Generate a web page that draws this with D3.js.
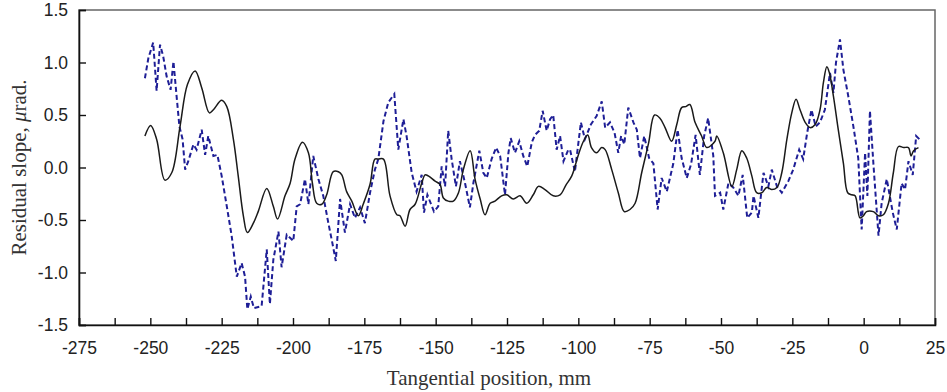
<!DOCTYPE html>
<html>
<head>
<meta charset="utf-8">
<script src="https://cdn.jsdelivr.net/npm/d3@7"></script>
<style>
  body { margin: 0; background: #fff; }
  #chart { width: 947px; height: 392px; }
  .tick text { font-family: "Liberation Sans", Arial, sans-serif; font-size: 17.5px; fill: #222; }
  .axisLabel { font-family: "Liberation Serif", "Times New Roman", serif; font-size: 21px; fill: #333; }
</style>
</head>
<body>
<div id="chart"></div>
<script>
// solid black profile (x in mm, y in microrad)
const solidX = [-251.9, -249.9, -247.8, -244.9, -242.5, -239.6, -237.0, -234.3, -232.0, -229.3, -227.9, -225.0, -223.2, -220.9, -219.2, -217.4, -216.0, -213.9, -212.2, -209.2, -206.9, -205.4, -202.8, -201.0, -199.3, -196.7, -194.6, -193.2, -191.7, -189.9, -188.2, -185.9, -184.1, -182.9, -181.2, -179.4, -177.1, -175.4, -173.0, -171.3, -170.1, -168.3, -166.0, -163.6, -162.5, -160.7, -159.0, -157.2, -154.9, -153.7, -152.6, -150.2, -148.5, -147.3, -145.6, -143.8, -142.0, -140.3, -137.9, -136.2, -134.4, -132.7, -130.9, -129.2, -126.9, -125.1, -122.8, -120.4, -118.1, -115.8, -114.0, -111.7, -108.8, -106.4, -104.4, -102.3, -100.0, -98.2, -96.7, -95.4, -93.6, -91.8, -90.6, -88.3, -86.0, -83.9, -81.9, -80.1, -77.8, -75.4, -73.3, -71.4, -69.6, -67.3, -65.5, -63.8, -62.4, -60.9, -59.1, -56.8, -55.0, -52.1, -51.5, -49.2, -46.2, -44.5, -42.7, -41.0, -39.2, -37.5, -35.7, -34.0, -32.2, -30.4, -28.7, -26.9, -25.2, -23.7, -22.3, -20.5, -18.8, -17.0, -15.3, -14.1, -12.9, -12.0, -10.6, -8.9, -7.1, -5.6, -4.2, -3.0, -1.3, -0.1, 1.0, 3.4, 5.2, 6.9, 8.7, 10.4, 12.2, 14.0, 15.7, 16.6, 17.5, 19.2];
const solidY = [0.30, 0.40, 0.27, -0.12, -0.05, 0.39, 0.79, 0.92, 0.76, 0.52, 0.55, 0.64, 0.58, 0.27, -0.08, -0.46, -0.62, -0.53, -0.42, -0.20, -0.37, -0.49, -0.27, -0.15, 0.08, 0.24, 0.14, -0.15, -0.34, -0.35, -0.26, -0.04, -0.04, -0.07, -0.23, -0.32, -0.46, -0.35, -0.16, 0.08, 0.08, 0.08, -0.27, -0.45, -0.46, -0.56, -0.40, -0.35, -0.15, -0.07, -0.08, -0.13, -0.16, -0.29, -0.32, -0.32, -0.24, -0.02, 0.16, -0.11, -0.30, -0.45, -0.34, -0.32, -0.27, -0.26, -0.30, -0.27, -0.34, -0.26, -0.18, -0.21, -0.27, -0.26, -0.17, -0.08, 0.12, 0.25, 0.31, 0.19, 0.14, 0.19, 0.17, -0.02, -0.24, -0.42, -0.40, -0.34, -0.05, 0.23, 0.50, 0.47, 0.38, 0.25, 0.41, 0.57, 0.58, 0.60, 0.43, 0.30, 0.19, 0.25, 0.30, 0.14, -0.18, -0.02, 0.16, 0.09, -0.08, -0.24, -0.24, -0.19, -0.21, -0.19, -0.05, 0.27, 0.52, 0.65, 0.55, 0.43, 0.38, 0.41, 0.55, 0.81, 0.96, 0.90, 0.68, 0.36, 0.04, -0.24, -0.26, -0.27, -0.48, -0.46, -0.42, -0.42, -0.46, -0.45, -0.34, -0.05, 0.20, 0.19, 0.19, 0.11, 0.16, 0.19];

// dashed blue profile
const dashX = [-251.9, -250.7, -249.0, -247.8, -246.6, -245.5, -244.3, -242.9, -241.9, -240.8, -239.8, -238.7, -237.8, -236.7, -234.9, -233.8, -232.0, -230.8, -229.7, -227.9, -226.5, -225.0, -223.2, -221.5, -219.7, -218.0, -216.8, -216.0, -214.8, -213.7, -211.0, -209.2, -208.1, -206.9, -205.1, -204.0, -202.2, -199.9, -198.7, -197.5, -195.8, -194.6, -192.9, -191.1, -189.4, -187.6, -186.2, -185.0, -183.5, -181.8, -180.0, -178.3, -176.5, -174.8, -173.0, -171.3, -170.1, -168.3, -166.6, -164.5, -163.1, -161.3, -160.2, -158.4, -156.7, -154.9, -154.1, -152.9, -150.6, -149.1, -147.9, -146.7, -145.6, -144.4, -142.9, -141.5, -139.7, -138.0, -136.8, -134.7, -133.3, -132.1, -130.4, -128.8, -127.4, -125.7, -124.5, -123.7, -122.2, -120.7, -119.3, -117.9, -116.3, -115.2, -113.7, -112.5, -111.1, -109.9, -108.8, -107.6, -106.4, -105.2, -103.5, -102.9, -101.2, -100.0, -99.1, -97.7, -95.6, -93.6, -91.8, -90.6, -88.9, -87.3, -86.0, -85.0, -83.9, -82.5, -80.7, -79.5, -78.4, -76.9, -75.2, -73.7, -72.2, -70.8, -69.0, -66.7, -65.2, -63.8, -62.0, -60.5, -58.9, -57.4, -55.9, -54.5, -52.7, -52.1, -50.3, -49.2, -47.4, -45.7, -43.9, -42.4, -40.8, -39.2, -38.6, -36.9, -35.1, -33.4, -32.2, -30.4, -28.7, -26.4, -24.7, -22.6, -21.2, -19.8, -18.3, -16.8, -15.3, -13.6, -11.8, -10.6, -9.7, -8.3, -7.1, -5.4, -3.6, -1.9, -0.7, 0.5, 1.3, 2.2, 3.4, 5.2, 6.3, 8.1, 10.2, 11.6, 13.3, 14.5, 15.7, 17.2, 18.4, 19.5];
const dashY = [0.85, 1.04, 1.19, 0.73, 1.17, 1.06, 0.87, 0.74, 1.01, 0.68, 0.39, 0.27, -0.02, 0.06, 0.22, 0.17, 0.36, 0.12, 0.30, 0.11, 0.12, -0.08, -0.37, -0.65, -1.04, -0.91, -1.04, -1.35, -1.23, -1.34, -1.32, -0.78, -1.30, -0.88, -0.61, -0.95, -0.64, -0.70, -0.37, -0.35, -0.11, -0.35, 0.11, -0.11, -0.27, -0.53, -0.72, -0.89, -0.30, -0.62, -0.35, -0.48, -0.38, -0.53, -0.24, -0.02, 0.08, 0.44, 0.62, 0.70, 0.17, 0.46, 0.30, -0.05, -0.23, -0.07, -0.43, -0.26, -0.42, -0.37, 0.01, -0.18, 0.35, 0.08, -0.18, 0.06, -0.15, -0.38, -0.15, 0.16, -0.05, -0.10, 0.08, 0.19, 0.11, -0.26, 0.14, 0.28, 0.14, 0.25, 0.11, 0.01, 0.24, 0.31, 0.35, 0.54, 0.35, 0.46, 0.50, 0.17, 0.30, 0.06, 0.17, 0.17, -0.04, 0.23, 0.43, 0.27, 0.41, 0.49, 0.63, 0.38, 0.43, 0.33, 0.14, 0.30, 0.22, 0.57, 0.43, 0.36, 0.09, 0.30, 0.09, 0.04, -0.40, -0.10, -0.23, 0.04, 0.36, 0.09, -0.10, 0.03, 0.31, -0.07, 0.30, 0.47, 0.11, -0.27, -0.24, -0.40, -0.15, -0.19, -0.27, -0.07, -0.48, -0.43, -0.27, -0.48, -0.05, -0.18, -0.02, -0.18, -0.24, -0.13, -0.02, 0.17, 0.08, 0.33, 0.55, 0.39, 0.43, 0.55, 0.90, 0.71, 1.00, 1.22, 0.93, 0.68, 0.39, 0.09, -0.59, 0.14, -0.27, 0.54, 0.04, -0.65, -0.34, -0.11, -0.43, -0.59, -0.15, -0.21, 0.06, -0.07, 0.30, 0.27, 0.54];

const xTicks = d3.range(-275, 26, 12.5);
const yTicks = [-1.5, -1.0, -0.5, 0.0, 0.5, 1.0, 1.5];

const width = 947;
const height = 392;
const margin = {top: 10, left: 79, right: 12, bottom: 67};

const svg = d3.select("#chart")
    .append("svg")
    .attr("width", width)
    .attr("height", height);

const xScale = d3.scaleLinear()
    .domain([-275, 25])
    .range([margin.left, width - margin.right]);

const yScale = d3.scaleLinear()
    .domain([-1.5, 1.5])
    .range([height - margin.bottom, margin.top]);

/* frame: top and right in grey */
svg.append("rect")
    .attr("x", margin.left)
    .attr("y", margin.top)
    .attr("width", xScale(25) - margin.left)
    .attr("height", yScale(-1.5) - margin.top)
    .attr("fill", "none")
    .attr("stroke", "#666")
    .attr("stroke-width", 1.5);

/* axes */
const xAxis = svg.append("g")
    .attr("transform", `translate(0,${yScale(-1.5)})`)
    .call(d3.axisBottom(xScale)
        .tickValues(xTicks)
        .tickSize(-7)
        .tickPadding(17)
        .tickFormat(d => d % 25 === 0 ? String(d) : ""));

const yAxis = svg.append("g")
    .attr("transform", `translate(${margin.left},0)`)
    .call(d3.axisLeft(yScale)
        .tickValues(yTicks)
        .tickSize(-7)
        .tickPadding(11)
        .tickFormat(d => d.toFixed(1)));

svg.selectAll(".domain").attr("stroke", "#111").attr("stroke-width", 1.6);
svg.selectAll(".tick line").attr("stroke", "#111").attr("stroke-width", 1.4);

/* lines */
const solid = solidX.map((x, i) => [x, solidY[i]]);
const dashed = dashX.map((x, i) => [x, dashY[i]]);

const line = d3.line()
    .x(d => xScale(d[0]))
    .y(d => yScale(d[1]))
    .curve(d3.curveCatmullRom.alpha(0.5));

svg.append("path")
    .datum(dashed)
    .attr("d", d3.line().x(d => xScale(d[0])).y(d => yScale(d[1])))
    .attr("fill", "none")
    .attr("stroke", "#1e1e96")
    .attr("stroke-width", 2)
    .attr("stroke-dasharray", "5,3");

svg.append("path")
    .datum(solid)
    .attr("d", line)
    .attr("fill", "none")
    .attr("stroke", "#1a1a1a")
    .attr("stroke-width", 1.5);

/* axis titles */
svg.append("text")
    .attr("class", "axisLabel")
    .attr("x", 489)
    .attr("y", 385)
    .attr("text-anchor", "middle")
    .text("Tangential position, mm");

const yLab = svg.append("text")
    .attr("class", "axisLabel")
    .attr("transform", `translate(26,${yScale(0)}) rotate(-90)`)
    .attr("text-anchor", "middle");
yLab.append("tspan").text("Residual slope, ");
yLab.append("tspan").attr("font-style", "italic").text("\u03bc");
yLab.append("tspan").text("rad.");
</script>
</body>
</html>
